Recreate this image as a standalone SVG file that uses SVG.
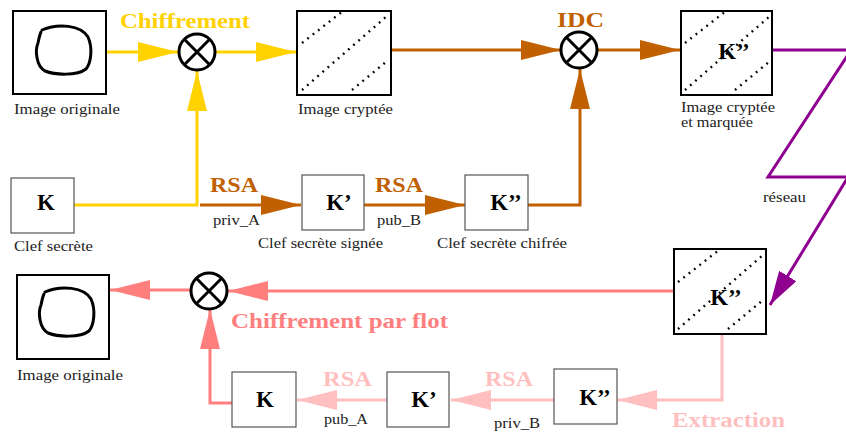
<svg xmlns="http://www.w3.org/2000/svg" xmlns:xlink="http://www.w3.org/1999/xlink" width="846" height="433" viewBox="0 0 846 433" font-family="'Liberation Serif', 'Times New Roman', 'DejaVu Serif', serif">
<style>
.img{fill:#fff;stroke:#000;stroke-width:2}
.key{fill:#fff;stroke:#555;stroke-width:1.2}
.dots{fill:none;stroke:#000;stroke-width:2.4;stroke-dasharray:1.8 5;stroke-linecap:butt}
.xor circle{fill:#fff;stroke:#000;stroke-width:3}
.xor line{stroke:#000;stroke-width:3}
.loop{fill:none;stroke:#000;stroke-width:3;stroke-linecap:round}
text{font-family:'Liberation Serif','Times New Roman','DejaVu Serif',serif}
.cap{font-size:15px;fill:#222}
.k{font-size:23px;font-weight:bold;fill:#000;text-anchor:middle}
.big{font-weight:bold;font-size:22px}
.c{fill:none;stroke-width:3}
.y{stroke:#FFD200}.b{stroke:#C06000}.s{stroke:#FF7F7F}.p{stroke:#FFBFBF}.v{stroke:#900090}
</style>
<defs>
<marker id="ay" viewBox="0 0 40 20" refX="40" refY="10" markerWidth="40" markerHeight="20" markerUnits="userSpaceOnUse" orient="auto"><path d="M0,0L40,10L0,20z" fill="#FFD200"/></marker>
<marker id="ab" viewBox="0 0 40 20" refX="40" refY="10" markerWidth="40" markerHeight="20" markerUnits="userSpaceOnUse" orient="auto"><path d="M0,0L40,10L0,20z" fill="#C06000"/></marker>
<marker id="as" viewBox="0 0 40 20" refX="40" refY="10" markerWidth="40" markerHeight="20" markerUnits="userSpaceOnUse" orient="auto"><path d="M0,0L40,10L0,20z" fill="#FF7F7F"/></marker>
<marker id="ap" viewBox="0 0 40 20" refX="40" refY="10" markerWidth="40" markerHeight="20" markerUnits="userSpaceOnUse" orient="auto"><path d="M0,0L40,10L0,20z" fill="#FFBFBF"/></marker>
<marker id="av" viewBox="0 0 34 20" refX="34" refY="10" markerWidth="34" markerHeight="20" markerUnits="userSpaceOnUse" orient="auto"><path d="M0,0L34,10L0,20z" fill="#900090"/></marker>
<g id="hatch">
<path class="dots" d="M5,32L46,0M5,79L90,5M55,79L90,50"/>
</g>
<path id="loopShape" d="M42,30C58,23 81,25 88,37C93,48 91,63 86,69C77,76 55,75 45,71C36,66 35,50 38,43C39,38 40,34 41,32"/>
</defs>

<g id="connectors">
<path class="c y" d="M106,52H178" marker-end="url(#ay)"/>
<path class="c y" d="M216,52H296" marker-end="url(#ay)"/>
<path class="c y" d="M74,205H197V71" marker-end="url(#ay)"/>
<path class="c b" d="M391,50H561" marker-end="url(#ab)"/>
<path class="c b" d="M598,50H680" marker-end="url(#ab)"/>
<path class="c b" d="M200,205H301" marker-end="url(#ab)"/>
<path class="c b" d="M364,205H465" marker-end="url(#ab)"/>
<path class="c b" d="M528,205H580V69" marker-end="url(#ab)"/>
<path class="c v" d="M772,50H851L768,177H848L770,305" marker-end="url(#av)"/>
<path class="c s" d="M674,291H228" marker-end="url(#as)"/>
<path class="c s" d="M191,290H110" marker-end="url(#as)"/>
<path class="c s" d="M232,403H210V309" marker-end="url(#as)"/>
<path class="c p" d="M387,400H297" marker-end="url(#ap)"/>
<path class="c p" d="M554,400H451" marker-end="url(#ap)"/>
<path class="c p" d="M722,334V400H617" marker-end="url(#ap)"/>
</g>

<g id="labels">
<text class="big" x="120" y="28" fill="#FFD200" textLength="130" lengthAdjust="spacingAndGlyphs">Chiffrement</text>
<text class="big" x="557" y="27" fill="#C06000" textLength="47" lengthAdjust="spacingAndGlyphs">IDC</text>
<text class="big" x="210" y="192" fill="#C06000" textLength="48" lengthAdjust="spacingAndGlyphs" font-size="20">RSA</text>
<text class="cap" x="213" y="225" textLength="47" lengthAdjust="spacingAndGlyphs">priv_A</text>
<text class="big" x="375" y="192" fill="#C06000" textLength="48" lengthAdjust="spacingAndGlyphs" font-size="20">RSA</text>
<text class="cap" x="377" y="225" textLength="44" lengthAdjust="spacingAndGlyphs">pub_B</text>
<text class="cap" x="763" y="202" textLength="43" lengthAdjust="spacingAndGlyphs">réseau</text>
<text class="big" x="231" y="328" fill="#FF7F7F" textLength="217" lengthAdjust="spacingAndGlyphs">Chiffrement par flot</text>
<text class="big" x="323" y="386" fill="#FFBFBF" textLength="49" lengthAdjust="spacingAndGlyphs" font-size="20">RSA</text>
<text class="cap" x="324" y="424" textLength="44" lengthAdjust="spacingAndGlyphs">pub_A</text>
<text class="big" x="485" y="386" fill="#FFBFBF" textLength="48" lengthAdjust="spacingAndGlyphs" font-size="20">RSA</text>
<text class="cap" x="494" y="428" textLength="46" lengthAdjust="spacingAndGlyphs">priv_B</text>
<text class="big" x="672" y="427" fill="#FFBFBF" textLength="113" lengthAdjust="spacingAndGlyphs">Extraction</text>
</g>

<g id="xor1" class="xor"><circle cx="197" cy="52" r="18"/><line x1="184.3" y1="39.3" x2="209.7" y2="64.7"/><line x1="209.7" y1="39.3" x2="184.3" y2="64.7"/></g>
<g id="xor2" class="xor"><circle cx="579" cy="50" r="18"/><line x1="566.3" y1="37.3" x2="591.7" y2="62.7"/><line x1="591.7" y1="37.3" x2="566.3" y2="62.7"/></g>
<g id="xor3" class="xor"><circle cx="209" cy="291" r="18"/><line x1="196.3" y1="278.3" x2="221.7" y2="303.7"/><line x1="221.7" y1="278.3" x2="196.3" y2="303.7"/></g>

<g id="img-orig-top">
<rect class="img" x="13" y="11" width="93" height="83"/>
<use xlink:href="#loopShape" class="loop"/>
<text class="cap" x="14" y="114" textLength="106" lengthAdjust="spacingAndGlyphs">Image originale</text>
</g>
<g id="img-crypt">
<rect class="img" x="297" y="11" width="94" height="84"/>
<use xlink:href="#hatch" transform="translate(297,11)"/>
<text class="cap" x="298" y="114" textLength="95" lengthAdjust="spacingAndGlyphs">Image cryptée</text>
</g>
<g id="img-marked">
<rect class="img" x="681" y="11" width="91" height="84"/>
<use xlink:href="#hatch" transform="translate(680,11)"/>
<text class="k" x="734" y="59">K’’</text>
<text class="cap" x="681" y="112" textLength="94" lengthAdjust="spacingAndGlyphs" font-size="14">Image cryptée</text>
<text class="cap" x="681" y="127" textLength="72" lengthAdjust="spacingAndGlyphs" font-size="14">et marquée</text>
</g>
<g id="key-K">
<rect class="key" x="11" y="178" width="63" height="55"/>
<text class="k" x="46" y="210">K</text>
<text class="cap" x="14" y="251" textLength="79" lengthAdjust="spacingAndGlyphs">Clef secrète</text>
</g>
<g id="key-K1">
<rect class="key" x="302" y="175" width="62" height="55"/>
<text class="k" x="339" y="210">K’</text>
<text class="cap" x="258" y="248" textLength="125" lengthAdjust="spacingAndGlyphs">Clef secrète signée</text>
</g>
<g id="key-K2">
<rect class="key" x="465" y="175" width="63" height="55"/>
<text class="k" x="506" y="210">K’’</text>
<text class="cap" x="437" y="248" textLength="130" lengthAdjust="spacingAndGlyphs">Clef secrète chifrée</text>
</g>
<g id="img-received">
<rect class="img" x="674" y="249" width="92" height="85"/>
<use xlink:href="#hatch" transform="translate(673,250)"/>
<text class="k" x="726" y="305">K’’</text>
</g>
<g id="img-orig-bottom">
<rect class="img" x="17" y="275" width="92" height="84"/>
<use xlink:href="#loopShape" class="loop" transform="translate(3,262)"/>
<text class="cap" x="17" y="380" textLength="106" lengthAdjust="spacingAndGlyphs">Image originale</text>
</g>
<g id="key-K-b">
<rect class="key" x="232" y="372" width="64" height="55"/>
<text class="k" x="265" y="407">K</text>
</g>
<g id="key-K1-b">
<rect class="key" x="387" y="372" width="62" height="55"/>
<text class="k" x="424" y="407">K’</text>
</g>
<g id="key-K2-b">
<rect class="key" x="554" y="369" width="63" height="55"/>
<text class="k" x="595" y="405">K’’</text>
</g>
</svg>
